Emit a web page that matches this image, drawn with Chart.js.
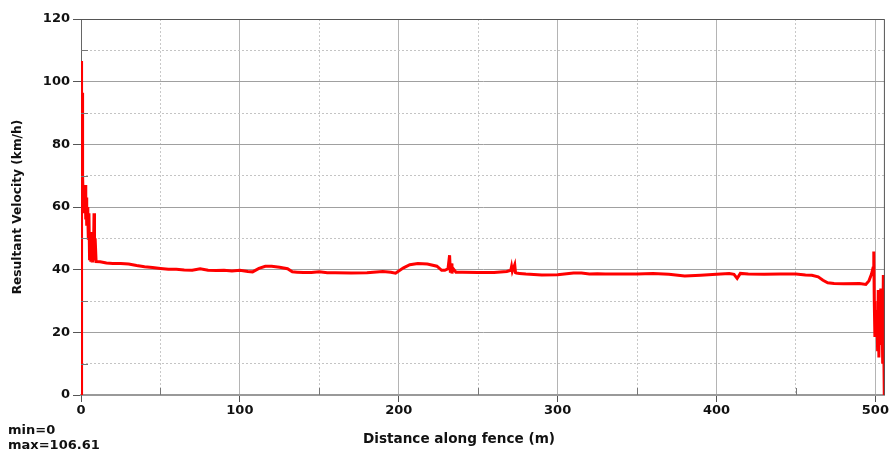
<!DOCTYPE html>
<html lang="en">
<head>
    <meta charset="UTF-8">
    <title>Resultant Velocity along fence</title>
    <script src="https://cdn.jsdelivr.net/npm/chart.js"></script>
    <style>
        body { margin: 0; background: #fff; font-family: "DejaVu Sans", sans-serif; }
        #wrap { position: relative; width: 890px; height: 452px; }
        .note { position: absolute; font-weight: bold; font-size: 13px; color: #111; white-space: nowrap; }
    </style>
</head>
<body>
    <div id="wrap">
        <canvas id="chartVel"></canvas>
        <div class="note" id="xTitle" style="left:0; width:918px; top:430px; text-align:center; font-size:13.6px;">Distance along fence (m)</div>
        <div class="note" id="minTxt" style="left:8px; top:422px;"></div>
        <div class="note" id="maxTxt" style="left:8px; top:437px;"></div>
    </div>

    <script>
        // distancia a lo largo de la cerca (m)
        const distance = [0, 0.2, 0.5, 0.8, 1.0, 1.3, 1.6, 2.0, 2.3, 2.6, 3.0, 3.3, 3.6, 4.0, 4.3, 4.6, 5.0, 5.4, 5.8, 6.2,
            6.6, 7.0, 7.4, 7.8, 8.2, 8.5, 8.9, 9.5, 12, 16, 20, 25, 30, 35, 40, 45, 50, 55, 60, 65,
            70, 75, 80, 85, 90, 95, 100, 105, 108, 112, 116, 120, 125, 130, 133, 136, 140, 145, 150, 155,
            160, 170, 180, 190, 195, 198, 200, 203, 207, 212, 218, 224, 227, 229, 231, 232, 232.5, 233, 233.5, 234,
            236, 240, 250, 260, 268, 270.5, 271, 271.5, 273, 273.5, 274, 276, 280, 290, 300, 310, 315, 320, 325, 330,
            340, 350, 360, 370, 380, 390, 400, 408, 411, 413, 415, 420, 430, 440, 450, 456, 460, 464, 467, 470,
            474, 480, 490, 494, 496, 497.5, 498.5, 499, 499.3, 499.7, 500.1, 500.5, 501, 501.4, 501.8, 502.2, 502.6, 503, 503.4, 503.8,
            504.2, 504.6, 505, 505.3, 505.6];

        // velocidad resultante (km/h)
        const velocity = [0, 106.61, 78, 96.5, 70, 64, 58, 66, 60, 67, 56, 63, 54, 60, 57, 50, 58, 43, 52, 42.5,
            47, 42.8, 45, 43, 58, 44, 50, 42.6, 42.5, 42.1, 42, 42, 41.8, 41.3, 40.9, 40.7, 40.4, 40.1, 40.1, 39.9,
            39.8, 40.3, 39.8, 39.7, 39.8, 39.6, 39.8, 39.4, 39.3, 40.4, 41.1, 41.1, 40.8, 40.3, 39.3, 39.2, 39.1, 39.1, 39.3, 39.0,
            39.0, 38.9, 39.0, 39.4, 39.2, 38.9, 39.6, 40.6, 41.6, 42.0, 41.8, 41.1, 39.8, 39.8, 40.3, 44.6, 39, 42, 38.8, 40.5,
            39.2, 39.2, 39.1, 39.1, 39.4, 39.8, 41, 39.5, 41.6, 39, 38.9, 38.8, 38.6, 38.3, 38.4, 38.9, 38.9, 38.6, 38.7, 38.6,
            38.6, 38.6, 38.8, 38.5, 38.0, 38.2, 38.5, 38.8, 38.5, 37.2, 38.8, 38.6, 38.5, 38.6, 38.6, 38.3, 38.2, 37.7, 36.6, 35.8,
            35.6, 35.5, 35.6, 35.3, 36.5, 38.5, 40.5, 45.8, 30, 18.5, 27, 21, 26, 14, 33.5, 12, 27, 20, 34, 16,
            28, 10, 38.3, 15, 0];

        const xTicks = [0, 50, 100, 150, 200, 250, 300, 350, 400, 450, 500];
        const xMax = 506;
        const yMax = 120;

        document.getElementById('minTxt').textContent = 'min=' + Math.min(...velocity);
        document.getElementById('maxTxt').textContent = 'max=' + Math.max(...velocity);

        const points = distance.map((d, i) => ({ x: d, y: velocity[i] }));
        const tickFont = { family: 'DejaVu Sans', size: 13, weight: 'bold' };

        // marco superior/derecho y marcas menores hacia adentro
        const framePlugin = {
            id: 'frame',
            afterDraw(chart) {
                const { ctx, chartArea: a, scales } = chart;
                ctx.save();
                ctx.strokeStyle = '#555';
                ctx.lineWidth = 1;
                ctx.beginPath();
                ctx.moveTo(a.left, a.top + 0.5);
                ctx.lineTo(a.right - 0.5, a.top + 0.5);
                ctx.lineTo(a.right - 0.5, a.bottom);
                ctx.stroke();
                ctx.strokeStyle = '#777';
                ctx.beginPath();
                for (let v = 10; v < yMax; v += 20) {
                    const y = Math.round(scales.y.getPixelForValue(v)) + 0.5;
                    ctx.moveTo(a.left, y);
                    ctx.lineTo(a.left + 7, y);
                }
                for (let v = 50; v < xMax; v += 100) {
                    const x = Math.round(scales.x.getPixelForValue(v)) + 0.5;
                    ctx.moveTo(x, a.bottom);
                    ctx.lineTo(x, a.bottom - 7);
                }
                ctx.stroke();
                ctx.restore();
            }
        };

        const isMajorY = c => c.tick && c.tick.value % 20 === 0;
        const isMajorX = c => c.tick && c.tick.value % 100 === 0;

        new Chart(document.getElementById('chartVel').getContext('2d'), {
            type: 'line',
            data: {
                datasets: [{
                    data: points,
                    borderColor: '#ff0000',
                    borderWidth: 3,
                    pointRadius: 0,
                    tension: 0,
                    fill: false
                }]
            },
            options: {
                responsive: true,
                maintainAspectRatio: false,
                animation: false,
                layout: { padding: { top: 19, right: 4, left: 0, bottom: 0 } },
                plugins: { legend: { display: false }, tooltip: { enabled: false } },
                scales: {
                    x: {
                        type: 'linear',
                        min: 0,
                        max: xMax,
                        afterBuildTicks: s => { s.ticks = xTicks.map(v => ({ value: v })); },
                        afterFit: s => { s.height = 57; },
                        ticks: {
                            font: tickFont,
                            color: '#111',
                            padding: 1,
                            maxRotation: 0,
                            autoSkip: false,
                            callback: v => (v % 100 === 0 ? v : '')
                        },
                        grid: {
                            color: c => (isMajorX(c) ? '#b4b4b4' : '#c8c8c8'),
                            tickColor: c => (isMajorX(c) ? '#555' : 'rgba(0,0,0,0)'),
                            tickLength: 7
                        },
                        border: {
                            color: '#999',
                            width: 2,
                            dash: c => (c.tick && !isMajorX(c) ? [2, 2] : [])
                        }
                    },
                    y: {
                        min: 0,
                        max: yMax,
                        afterFit: s => { s.width = 81; },
                        ticks: {
                            stepSize: 10,
                            font: tickFont,
                            color: '#111',
                            padding: 3,
                            autoSkip: false,
                            callback: v => (v % 20 === 0 ? v : '')
                        },
                        grid: {
                            color: c => (isMajorY(c) ? '#a0a0a0' : '#c4c4c4'),
                            tickColor: c => (isMajorY(c) ? '#555' : 'rgba(0,0,0,0)'),
                            tickLength: 8
                        },
                        border: {
                            color: '#666',
                            width: 1,
                            dash: c => (c.tick && !isMajorY(c) ? [2, 2] : [])
                        },
                        title: {
                            display: true,
                            text: 'Resultant Velocity (km/h)',
                            font: { family: 'DejaVu Sans', size: 12.2, weight: 'bold' },
                            color: '#111',
                            padding: { top: 11, bottom: 0 }
                        }
                    }
                }
            },
            plugins: [framePlugin]
        });
    </script>
</body>
</html>
